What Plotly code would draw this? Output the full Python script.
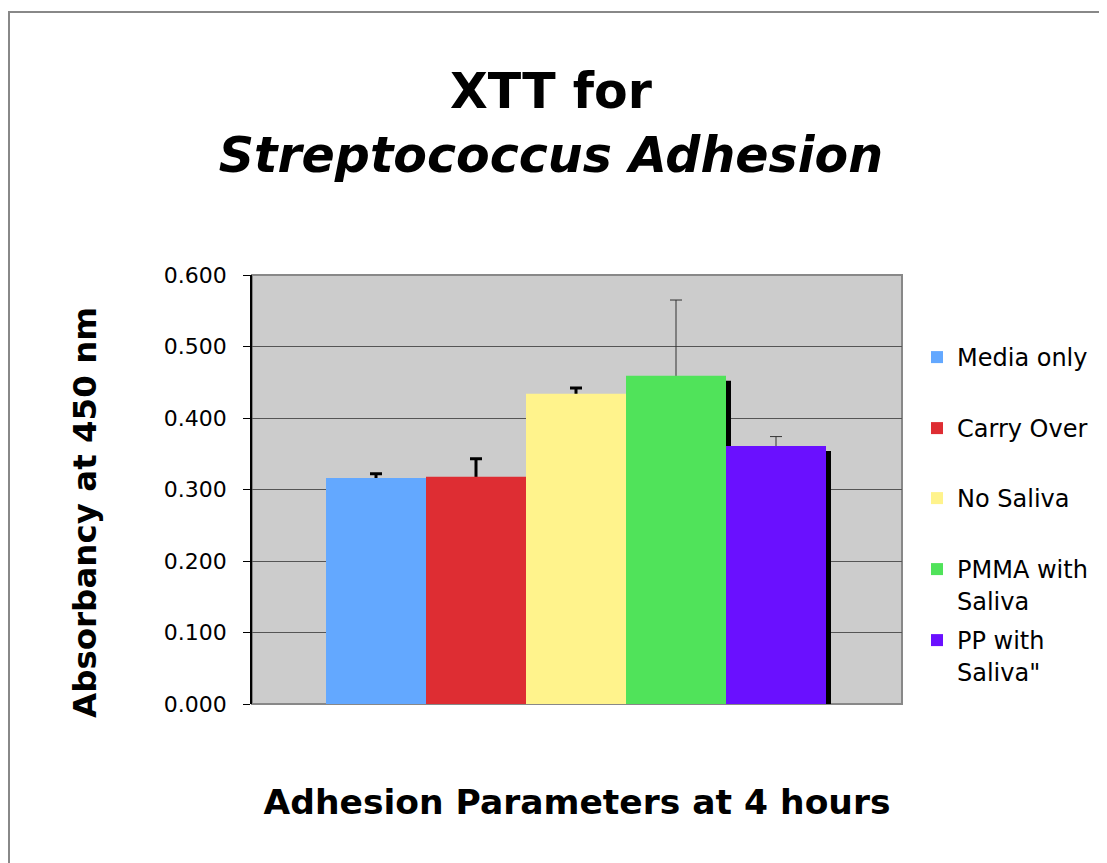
import plotly.graph_objects as go

# ---- data ----
series_names = ["Media only", "Carry Over", "No Saliva", "PMMA with<br>Saliva", "PP with<br>Saliva\""]
values = [0.316, 0.318, 0.434, 0.459, 0.361]
errors = [0.006, 0.025, 0.008, 0.106, 0.013]
colors = ["#63A8FF", "#DE2D33", "#FFF38C", "#50E35A", "#6A10FF"]
err_thickness = [3, 3, 3, 1, 1]
err_colors = ["#000000", "#000000", "#000000", "#333333", "#333333"]
y_ticks = [0.0, 0.1, 0.2, 0.3, 0.4, 0.5, 0.6]
y_ticktext = ["0.000", "0.100", "0.200", "0.300", "0.400", "0.500", "0.600"]

# page has an 8px body margin; figure sized to fit the window
W, H = 1099, 855
L, R, T, B = 244, 205, 267, 159
pw, ph = W - L - R, H - T - B
ymax = 0.6
px_y = ymax / ph          # data units per pixel (y)
cats = [f"s{i}" for i in range(len(values))]

font = "DejaVu Sans, Verdana, sans-serif"
fig = go.Figure()

# error-bar carriers (transparent bars drawn first so the real bars hide the lower half)
for i, v in enumerate(values):
    fig.add_trace(go.Bar(
        x=[cats[i]], y=[v], width=1.0, offset=-0.5,
        marker=dict(color="rgba(0,0,0,0)", line=dict(width=0)),
        error_y=dict(type="data", symmetric=True, array=[errors[i]],
                     thickness=err_thickness[i], width=6, color=err_colors[i]),
        showlegend=False, hoverinfo="skip",
    ))

# shadows
for i, v in enumerate(values):
    fig.add_trace(go.Bar(
        x=[cats[i]], y=[v - 5 * px_y + 3 * px_y], base=[-3 * px_y],
        width=1.0, offset=-0.5 + 0.05,
        marker=dict(color="#000000", line=dict(width=0)),
        showlegend=False, hoverinfo="skip",
    ))

legend_tops = [327, 398, 468, 539, 610]
for i, v in enumerate(values):
    lg = "legend" if i == 0 else f"legend{i+1}"
    fig.add_trace(go.Bar(
        x=[cats[i]], y=[v], width=1.0, offset=-0.5,
        name=series_names[i],
        marker=dict(color=colors[i], line=dict(width=0)),
        legend=lg,
    ))

legend_common = dict(
    x=(909 - L) / pw, xanchor="left", yanchor="top",
    bgcolor="rgba(0,0,0,0)", borderwidth=0, valign="top",
    font=dict(family=font, size=24, color="#000000"),
)
layout_legends = {}
for i, top in enumerate(legend_tops):
    key = "legend" if i == 0 else f"legend{i+1}"
    layout_legends[key] = dict(legend_common, y=(H - B - top) / ph)

fig.update_layout(
    width=W, height=H,
    margin=dict(l=L, r=R, t=T, b=B),
    paper_bgcolor="#FFFFFF",
    plot_bgcolor="#CCCCCC",
    barmode="overlay",
    showlegend=True,
    title=dict(
        text="<b>XTT for</b><br><b><i>Streptococcus Adhesion</i></b>",
        x=0.494, xanchor="center", xref="container",
        y=1 - 100 / H, yanchor="top", yref="container",
        font=dict(family=font, size=49, color="#000000"),
    ),
    xaxis=dict(
        categoryorder="array", categoryarray=cats,
        range=[-1.24, 5.26], showticklabels=False, ticks="",
        showgrid=False, zeroline=False, showline=False,
        title=dict(text="<b>Adhesion Parameters at 4 hours</b>",
                   font=dict(family=font, size=34.5, color="#000000"), standoff=85),
    ),
    yaxis=dict(
        range=[0, ymax], tickvals=y_ticks, ticktext=y_ticktext,
        ticks="outside", ticklen=7, tickcolor="#000000", tickwidth=1,
        ticklabelstandoff=12,
        tickfont=dict(family=font, size=22, color="#000000"),
        showgrid=True, gridcolor="#555555", gridwidth=1,
        zeroline=False, showline=True, linecolor="#000000", linewidth=1.5,
    ),
    annotations=[
        dict(text="<b>Absorbancy at 450 nm</b>", textangle=-90,
             xref="paper", yref="paper", x=(77 - L) / pw, y=(H - B - 505) / ph,
             xanchor="center", yanchor="middle", showarrow=False,
             font=dict(family=font, size=32.5, color="#000000")),
    ],
    shapes=[
        # plot-area border
        dict(type="rect", xref="paper", yref="paper", x0=0, x1=1, y0=0, y1=1,
             line=dict(color="#888888", width=2), layer="below"),
        # chart frame
        dict(type="rect", xref="paper", yref="paper",
             x0=(1 - L) / pw, x1=(W + 5 - L) / pw,
             y0=(H - B - (H + 5)) / ph, y1=(H - B - 4) / ph,
             line=dict(color="#888888", width=2)),
    ],
    **layout_legends,
)

fig.write_html("out.html")
